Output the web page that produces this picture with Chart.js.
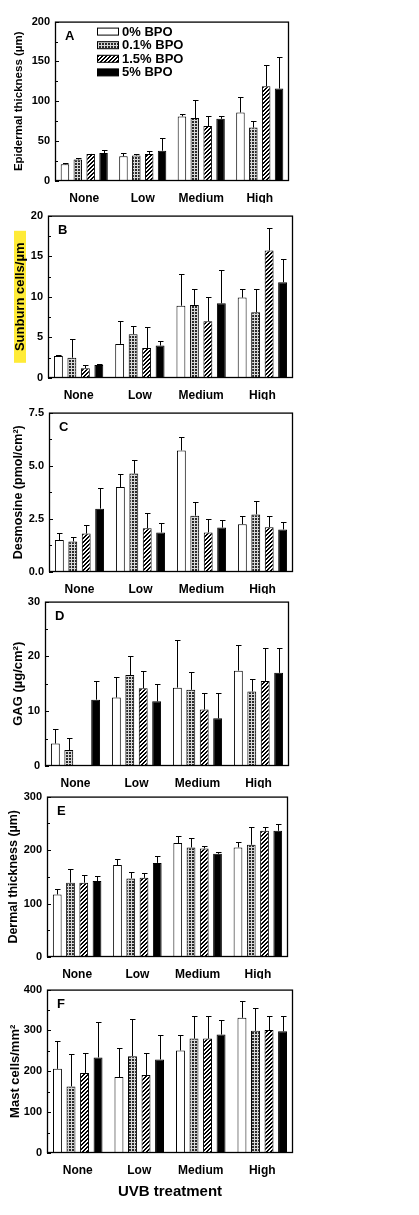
<!DOCTYPE html>
<html>
<head>
<meta charset="utf-8">
<script src="https://cdn.jsdelivr.net/npm/chart.js@4.4.1/dist/chart.umd.min.js"></script>
<style>
  body { margin: 0; background: #fff; width: 419px; height: 1215px; position: relative; overflow: hidden; }
  canvas { position: absolute; left: 0; }
</style>
</head>
<body>
<canvas id="panelA"></canvas>
<canvas id="panelB"></canvas>
<canvas id="panelC"></canvas>
<canvas id="panelD"></canvas>
<canvas id="panelE"></canvas>
<canvas id="panelF"></canvas>
<script>
const uvbLevels = ['None', 'Low', 'Medium', 'High'];
const bpoLabels = ['0% BPO', '0.1% BPO', '1.5% BPO', '5% BPO'];

// each row is one BPO dose, values run None / Low / Medium / High
const epidermalMean = [[21, 31, 81, 86], [27, 32, 79, 67], [34, 34, 69, 119], [35, 38, 78, 116]];
const epidermalSd = [[2, 4, 3, 19], [2, 1.5, 23, 8], [0.5, 4, 12, 27], [4, 16, 4, 39]];

const sunburnMean = [[2.7, 4.2, 8.9, 9.9], [2.5, 5.4, 9.0, 8.1], [1.2, 3.7, 7.0, 15.7], [1.6, 4.0, 9.2, 11.8]];
const sunburnSd = [[0.1, 2.8, 3.9, 1.1], [2.3, 1.0, 2.0, 2.9], [0.4, 2.6, 3.0, 2.8], [0.1, 0.6, 4.1, 2.8]];

const desmosineMean = [[1.5, 4.0, 5.72, 2.25], [1.44, 4.63, 2.65, 2.71], [1.81, 2.06, 1.86, 2.11], [2.98, 1.86, 2.09, 2.0]];
const desmosineSd = [[0.35, 0.63, 0.64, 0.4], [0.23, 0.64, 0.64, 0.61], [0.39, 0.73, 0.62, 0.54], [0.97, 0.45, 0.38, 0.36]];

const gagMean = [[4.1, 12.5, 14.3, 17.4], [2.9, 16.6, 13.9, 13.6], [0, 14.2, 10.3, 15.5], [12.1, 11.8, 8.7, 17.0]];
const gagSd = [[2.6, 3.8, 8.7, 4.6], [2.25, 3.5, 3.2, 2.3], [0, 3.1, 3.0, 6.0], [3.5, 3.2, 4.6, 4.5]];

const dermalMean = [[117, 172, 213, 205], [139, 147, 205, 210], [139, 148, 203, 236], [142, 176, 193, 236]];
const dermalSd = [[11, 12, 13, 11], [26, 12, 18, 34], [14, 10, 5, 8], [10, 12, 3, 12]];

const mastMean = [[206, 186, 251, 331], [163, 237, 280, 299], [196, 191, 280, 301], [234, 229, 290, 298]];
const mastSd = [[67, 70, 39, 41], [79, 91, 55, 56], [50, 54, 55, 34], [86, 60, 35, 37]];

const FONT = "'Liberation Sans', Arial, sans-serif";

function makePattern(kind) {
  const c = document.createElement('canvas');
  c.width = c.height = kind === 'grid' ? 3 : 4;
  const g = c.getContext('2d');
  if (kind === 'grid') {
    g.fillStyle = '#2a2a2a';
    g.fillRect(0, 0, 3, 3);
    g.fillStyle = '#d8d8d8';
    g.fillRect(0, 2, 3, 1);
    g.fillRect(2, 0, 1, 3);
  } else {
    g.fillStyle = '#fff';
    g.fillRect(0, 0, 4, 4);
    g.fillStyle = '#000';
    for (let i = 0; i < 4; i++) {
      g.fillRect(i, 3 - i, 1, 1);
      g.fillRect((i + 1) % 4, 3 - i, 1, 1);
    }
  }
  return g.createPattern(c, 'repeat');
}

const fills = ['#ffffff', makePattern('grid'), makePattern('hatch'), '#000000'];

const panels = [
  { id: 'panelA', letter: 'A', title: 'Epidermal thickness (µm)', mean: epidermalMean, sd: epidermalSd, max: 200, step: 50, dec: 0,
    box: { left: 55, right: 289, top: 20, bottom: 181 }, titleX: 19, titleSize: 11.5, legend: true },
  { id: 'panelB', letter: 'B', title: 'Sunburn cells/µm', mean: sunburnMean, sd: sunburnSd, max: 20, step: 5, dec: 0,
    box: { left: 48, right: 293, top: 214, bottom: 378 }, titleX: 20, titleSize: 13, highlight: true },
  { id: 'panelC', letter: 'C', title: 'Desmosine (pmol/cm²)', mean: desmosineMean, sd: desmosineSd, max: 7.5, step: 2.5, dec: 1,
    box: { left: 49, right: 293, top: 411, bottom: 572 }, titleX: 19, titleSize: 12.5 },
  { id: 'panelD', letter: 'D', title: 'GAG (µg/cm²)', mean: gagMean, sd: gagSd, max: 30, step: 10, dec: 0,
    box: { left: 45, right: 289, top: 600, bottom: 766 }, titleX: 18, titleSize: 13 },
  { id: 'panelE', letter: 'E', title: 'Dermal thickness (µm)', mean: dermalMean, sd: dermalSd, max: 300, step: 100, dec: 0,
    box: { left: 47, right: 288, top: 795, bottom: 957 }, titleX: 14, titleSize: 12.5 },
  { id: 'panelF', letter: 'F', title: 'Mast cells/mm²', mean: mastMean, sd: mastSd, max: 400, step: 100, dec: 0,
    box: { left: 47, right: 293, top: 988, bottom: 1153 }, titleX: 15, titleSize: 13, xTitle: 'UVB treatment' },
];

// frame, inward ticks, error bars, panel letter, legend
const decorations = {
  id: 'decorations',
  beforeDraw(chart, args, opts) {
    if (!opts.highlight) return;
    const { ctx, chartArea } = chart;
    const mid = (chartArea.top + chartArea.bottom) / 2;
    ctx.save();
    ctx.fillStyle = 'rgba(255, 232, 20, 0.85)';
    ctx.fillRect(opts.titleX - 6, mid - 66, 12, 132);
    ctx.restore();
  },
  afterDatasetsDraw(chart, args, opts) {
    const { ctx, chartArea } = chart;
    const y = chart.scales.y;
    ctx.save();
    ctx.strokeStyle = '#000';
    ctx.lineWidth = 1;

    chart.data.datasets.forEach((ds, di) => {
      const meta = chart.getDatasetMeta(di);
      meta.data.forEach((bar, i) => {
        const sd = ds.sd[i];
        if (!sd || !ds.data[i]) return;
        const x = Math.round(bar.x) + 0.5;
        const yTop = Math.round(y.getPixelForValue(ds.data[i] + sd)) + 0.5;
        ctx.beginPath();
        ctx.moveTo(x, bar.y);
        ctx.lineTo(x, yTop);
        ctx.moveTo(x - 2.5, yTop);
        ctx.lineTo(x + 3, yTop);
        ctx.stroke();
      });
    });

    ctx.lineWidth = 1.3;
    ctx.strokeRect(chartArea.left + 0.5, chartArea.top + 0.5, chartArea.width - 1, chartArea.height - 1);

    ctx.lineWidth = 1;
    ctx.beginPath();
    y.ticks.forEach((t) => {
      const py = Math.round(y.getPixelForValue(t.value)) + 0.5;
      ctx.moveTo(chartArea.left, py);
      ctx.lineTo(chartArea.left + 4, py);
      const half = t.value + opts.step / 2;
      if (half < y.max) {
        const ph = Math.round(y.getPixelForValue(half)) + 0.5;
        ctx.moveTo(chartArea.left, ph);
        ctx.lineTo(chartArea.left + 3, ph);
      }
    });
    ctx.stroke();

    ctx.fillStyle = '#000';
    ctx.font = `bold 13px ${FONT}`;
    ctx.textBaseline = 'middle';
    ctx.fillText(opts.letter, chartArea.left + 10, chartArea.top + 15);

    if (opts.legend) {
      ctx.font = `bold 13px ${FONT}`;
      chart.data.datasets.forEach((ds, di) => {
        const bx = chartArea.left + 42;
        const cy = chartArea.top + 10 + di * 13.6;
        ctx.fillStyle = ds.backgroundColor;
        ctx.fillRect(bx, cy - 3.5, 21, 7);
        ctx.strokeRect(bx + 0.5, cy - 3.5, 21, 7);
        ctx.fillStyle = '#000';
        ctx.fillText(ds.label, bx + 25, cy + 0.5);
      });
    }
    ctx.restore();
  },
};

panels.forEach((p) => {
  const canvas = document.getElementById(p.id);
  const padTop = 10;
  const xHeight = p.xTitle ? 52 : 22;
  const plotH = p.box.bottom - p.box.top;
  canvas.width = 300;
  canvas.height = padTop + plotH + xHeight;
  canvas.style.top = (p.box.top - padTop) + 'px';

  const lineH = p.titleSize * 1.2;

  new Chart(canvas, {
    type: 'bar',
    data: {
      labels: uvbLevels,
      datasets: bpoLabels.map((label, k) => ({
        label,
        data: p.mean[k],
        sd: p.sd[k],
        backgroundColor: fills[k],
        borderColor: '#000',
        borderWidth: 1,
        categoryPercentage: 0.88,
        barPercentage: 0.66,
      })),
    },
    options: {
      responsive: false,
      animation: false,
      events: [],
      layout: { padding: { top: padTop, right: 300 - p.box.right, left: 0, bottom: 0 } },
      plugins: {
        legend: { display: false },
        tooltip: { enabled: false },
        decorations: { letter: p.letter, legend: !!p.legend, step: p.step, highlight: !!p.highlight, titleX: p.titleX },
      },
      scales: {
        x: {
          grid: { display: false },
          border: { display: false },
          ticks: { color: '#000', padding: 2, font: { family: FONT, size: 12, weight: 'bold' } },
          title: {
            display: !!p.xTitle,
            text: p.xTitle || '',
            color: '#000',
            padding: { top: 10 },
            font: { family: FONT, size: 15, weight: 'bold' },
          },
          afterFit: (s) => { s.height = xHeight; },
        },
        y: {
          min: 0,
          max: p.max,
          grid: { display: false, drawTicks: false },
          border: { display: false },
          ticks: {
            stepSize: p.step,
            color: '#000',
            padding: 5,
            font: { family: FONT, size: 11, weight: 'bold' },
            callback: (v) => Number(v).toFixed(p.dec),
          },
          title: {
            display: true,
            text: p.title,
            color: '#000',
            padding: { top: p.titleX - lineH / 2, bottom: 0 },
            font: { family: FONT, size: p.titleSize, weight: 'bold' },
          },
          afterFit: (s) => { s.width = p.box.left; },
        },
      },
    },
    plugins: [decorations],
  });
});
</script>
</body>
</html>
